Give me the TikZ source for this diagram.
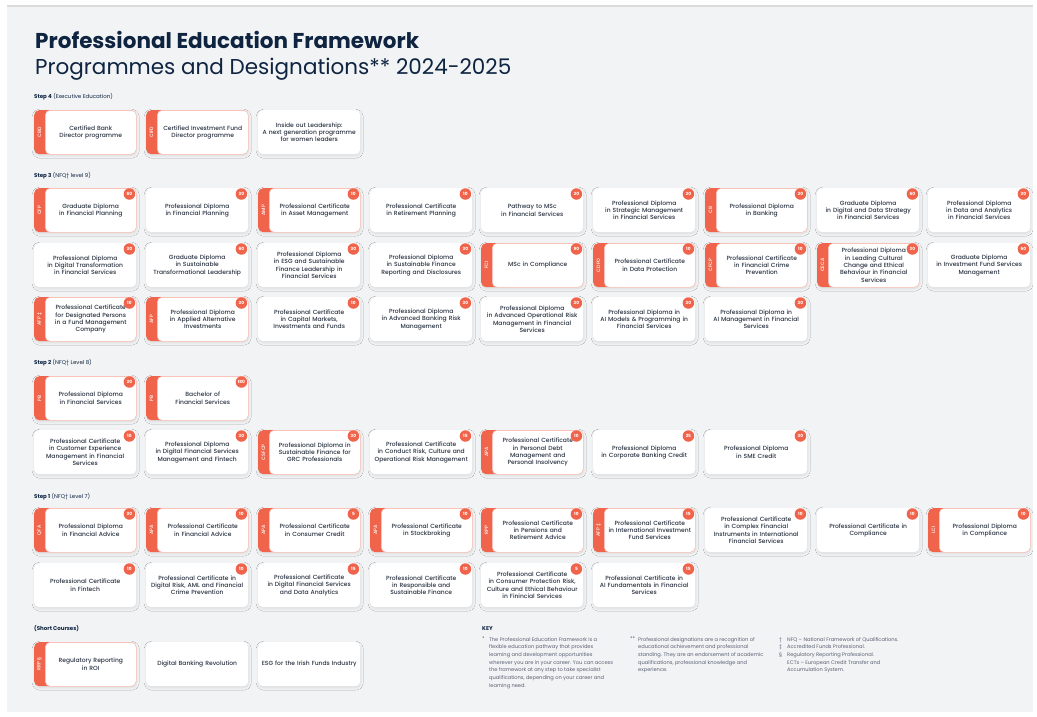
\documentclass[tikz,border=0pt]{standalone}
\usepackage{fontspec}
\setmainfont{Poppins}
\newfontfamily\medfam{Poppins Medium}
\usetikzlibrary{shadows.blur}

\definecolor{coral}{HTML}{F0644B}
\definecolor{navy}{HTML}{0E2440}
\definecolor{boxtext}{HTML}{2A3342}
\definecolor{panelbg}{HTML}{F2F3F5}
\definecolor{keytext}{HTML}{596072}

\newcommand{\crsfont}{\medfam\fontsize{6}{7.3}\selectfont}
\newcommand{\tagfnt}{\medfam\fontsize{4.8}{5}\selectfont}
\newcommand{\crdfont}{\fontsize{4.3}{5}\selectfont\bfseries}
\newcommand{\lblfont}{\fontsize{5.5}{6}\selectfont}
\newcommand{\keyfnt}{\fontsize{5.1}{7.7}\selectfont}

\tikzset {
    course/.style={rectangle, rounded corners=5pt, fill=white, anchor=north west,
        minimum width=102pt, minimum height=44pt, inner sep=0pt, text width=98pt,
        align=center, font=\crsfont, text=boxtext,
        blur shadow={shadow xshift=.5pt, shadow yshift=-1.5pt, shadow blur radius=2.5pt,
            shadow blur steps=8, shadow opacity=10}},
    tagbar/.style={course, fill=coral},
    inbox/.style={rectangle, rounded corners=5pt, fill=white, draw=coral!40, line width=.5pt,
        anchor=north west, minimum width=91pt, minimum height=44pt, inner sep=0pt,
        text width=89pt, align=center, font=\crsfont, text=boxtext},
    tagtxt/.style={rotate=90, text=white, font=\tagfnt, inner sep=0pt},
    credit/.style={circle, fill=coral, text=white, font=\crdfont, minimum size=11.5pt, inner sep=0pt},
    steplbl/.style={anchor=base west, inner sep=0pt, font=\lblfont, text=navy},
    keytxt/.style={anchor=north west, inner sep=0pt, align=left, font=\keyfnt, text=keytext},
}

% plain box, box with designation tag, credit badge
\newcommand{\course}[4]{\node [course] (#1) at (#2,#3) {#4};}
\newcommand{\desig}[5]{%
    \node [tagbar] (#1) at (#2,#3) {};
    \node [inbox, xshift=11pt] (#1-in) at (#1.north west) {#5};
    \node [tagtxt] (#1-tag) at ([xshift=5.5pt]#1.west) {#4};}
\newcommand{\badge}[2]{\node [credit] (#1-ects) at ([xshift=-7pt,yshift=-6pt]#1.north east) {#2};}

\begin{document}
\begin{tikzpicture}[x=1pt, y=-1pt]
    \useasboundingbox (0,0) rectangle (1037,716);
    \fill [panelbg] (7,5) rectangle (1033,712);
    \fill [black!14] (7,5) rectangle (1033,7);

    \node [anchor=base west, inner sep=0pt, font=\fontsize{21.5}{24}\selectfont\bfseries, text=navy]
        (title) at (35,48) {Professional Education Framework};
    \node [anchor=base west, inner sep=0pt, font=\fontsize{21.5}{24}\selectfont, text=navy]
        (subtitle) at (35,74) {Programmes and Designations** 2024-2025};

    % step 4
    \node [steplbl] (s4) at (34,98) {\textbf{Step 4} (Executive Education)};
    \desig{cbd}{34}{110}{CBD}{Certified Bank\\Director programme}
    \desig{cifd}{146}{110}{CIFD}{Certified Investment Fund\\Director programme}
    \course{lead}{258}{110}{Inside out Leadership:\\A next generation programme\\for women leaders}

    % step 3
    \node [steplbl] (s3) at (34,177) {\textbf{Step 3} (NFQ† level 9)};
    \desig{cfp}{34}{188}{CFP}{Graduate Diploma\\in Financial Planning} \badge{cfp}{60}
    \course{pdfp}{146}{188}{Professional Diploma\\in Financial Planning} \badge{pdfp}{30}
    \desig{amp}{258}{188}{AMP}{Professional Certificate\\in Asset Management} \badge{amp}{10}
    \course{pcrp}{370}{188}{Professional Certificate\\in Retirement Planning} \badge{pcrp}{10}
    \course{msc}{481}{188}{Pathway to MSc\\in Financial Services} \badge{msc}{30}
    \course{pdsm}{593}{188}{Professional Diploma\\in Strategic Management\\in Financial Services} \badge{pdsm}{30}
    \desig{cb}{705}{188}{CB}{Professional Diploma\\in Banking} \badge{cb}{30}
    \course{gdds}{817}{188}{Graduate Diploma\\in Digital and Data Strategy\\in Financial Services} \badge{gdds}{60}
    \course{pdda}{928}{188}{Professional Diploma\\in Data and Analytics\\in Financial Services} \badge{pdda}{30}

    \course{pddt}{34}{243}{Professional Diploma\\in Digital Transformation\\in Financial Services} \badge{pddt}{30}
    \course{gdst}{146}{243}{Graduate Diploma\\in Sustainable\\Transformational Leadership} \badge{gdst}{60}
    \course{pdesg}{258}{243}{Professional Diploma\\in ESG and Sustainable\\Finance Leadership in\\Financial Services} \badge{pdesg}{30}
    \course{pdsf}{370}{243}{Professional Diploma\\in Sustainable Finance\\Reporting and Disclosures} \badge{pdsf}{30}
    \desig{fci}{481}{243}{FCI}{MSc in Compliance} \badge{fci}{90}
    \desig{cdpo}{593}{243}{CDPO}{Professional Certificate\\in Data Protection} \badge{cdpo}{10}
    \desig{cfcp}{705}{243}{CFCP}{Professional Certificate\\in Financial Crime\\Prevention} \badge{cfcp}{10}
    \desig{ceca}{817}{243}{CECA}{Professional Diploma\\in Leading Cultural\\Change and Ethical\\Behaviour in Financial\\Services} \badge{ceca}{30}
    \course{gdif}{928}{243}{Graduate Diploma\\in Investment Fund Services\\Management} \badge{gdif}{60}

    \desig{afpa}{34}{297}{AFP ‡}{Professional Certificate\\for Designated Persons\\in a Fund Management\\Company} \badge{afpa}{10}
    \desig{afpb}{146}{297}{AFP}{Professional Diploma\\in Applied Alternative\\Investments} \badge{afpb}{30}
    \course{pccm}{258}{297}{Professional Certificate\\in Capital Markets,\\Investments and Funds} \badge{pccm}{10}
    \course{pdbr}{370}{297}{Professional Diploma\\in Advanced Banking Risk\\Management} \badge{pdbr}{30}
    \course{pdor}{481}{297}{Professional Diploma\\in Advanced Operational Risk\\Management in Financial\\Services} \badge{pdor}{30}
    \course{pdaim}{593}{297}{Professional Diploma in\\AI Models \& Programming in\\Financial Services} \badge{pdaim}{30}
    \course{pdaig}{705}{297}{Professional Diploma in\\AI Management in Financial\\Services} \badge{pdaig}{30}

    % step 2
    \node [steplbl] (s2) at (34,364) {\textbf{Step 2} (NFQ† Level 8)};
    \desig{pba}{34}{376}{PB}{Professional Diploma\\in Financial Services} \badge{pba}{30}
    \desig{pbb}{146}{376}{PB}{Bachelor of\\Financial Services} \badge{pbb}{180}

    \course{pccx}{34}{430}{Professional Certificate\\in Customer Experience\\Management in Financial\\Services} \badge{pccx}{10}
    \course{pddf}{146}{430}{Professional Diploma\\in Digital Financial Services\\Management and Fintech} \badge{pddf}{30}
    \desig{csfcp}{258}{430}{CSFCP}{Professional Diploma in\\Sustainable Finance for\\GRC Professionals} \badge{csfcp}{30}
    \course{pccr}{370}{430}{Professional Certificate\\in Conduct Risk, Culture and\\Operational Risk Management} \badge{pccr}{15}
    \desig{apaa}{481}{430}{APA}{Professional Certificate\\in Personal Debt\\Management and\\Personal Insolvency} \badge{apaa}{10}
    \course{pdcb}{593}{430}{Professional Diploma\\in Corporate Banking Credit} \badge{pdcb}{25}
    \course{pdsme}{705}{430}{Professional Diploma\\in SME Credit} \badge{pdsme}{30}

    % step 1
    \node [steplbl] (s1) at (34,498) {\textbf{Step 1} (NFQ† Level 7)};
    \desig{qfa}{34}{508}{QFA}{Professional Diploma\\in Financial Advice} \badge{qfa}{30}
    \desig{apab}{146}{508}{APA}{Professional Certificate\\in Financial Advice} \badge{apab}{10}
    \desig{apac}{258}{508}{APA}{Professional Certificate\\in Consumer Credit} \badge{apac}{5}
    \desig{apad}{370}{508}{APA}{Professional Certificate\\in Stockbroking} \badge{apad}{10}
    \desig{rpp}{481}{508}{RPP}{Professional Certificate\\in Pensions and\\Retirement Advice} \badge{rpp}{10}
    \desig{afpc}{593}{508}{AFP ‡}{Professional Certificate\\in International Investment\\Fund Services} \badge{afpc}{15}
    \course{pccf}{705}{508}{Professional Certificate\\in Complex Financial\\Instruments in International\\Financial Services} \badge{pccf}{10}
    \course{pccomp}{817}{508}{Professional Certificate in\\Compliance} \badge{pccomp}{10}
    \desig{lci}{928}{508}{LCI}{Professional Diploma\\in Compliance} \badge{lci}{10}

    \course{pcft}{34}{563}{Professional Certificate\\in Fintech} \badge{pcft}{10}
    \course{pcdr}{146}{563}{Professional Certificate in\\Digital Risk, AML and Financial\\Crime Prevention} \badge{pcdr}{10}
    \course{pcdf}{258}{563}{Professional Certificate\\in Digital Financial Services\\and Data Analytics} \badge{pcdf}{15}
    \course{pcrs}{370}{563}{Professional Certificate\\in Responsible and\\Sustainable Finance} \badge{pcrs}{10}
    \course{pccp}{481}{563}{Professional Certificate\\in Consumer Protection Risk,\\Culture and Ethical Behaviour\\in Finincial Services} \badge{pccp}{5}
    \course{pcai}{593}{563}{Professional Certificate in\\AI Fundamentals in Financial\\Services} \badge{pcai}{15}

    % short courses
    \node [steplbl] (sc) at (34,630) {\textbf{(Short Courses)}};
    \desig{rrp}{34}{642}{RRP §}{Regulatory Reporting\\in ROI}
    \course{dbr}{146}{642}{Digital Banking Revolution}
    \course{esg}{258}{642}{ESG for the Irish Funds Industry}

    % key
    \node [steplbl] (key) at (482,630) {\textbf{KEY}};
    \node [keytxt] (k1s) at (482,637) {*};
    \node [keytxt] (k1) at (489,637) {The Professional Education Framework is a\\flexible education pathway that provides\\learning and development opportunities\\wherever you are in your career. You can access\\the framework at any step to take specialist\\qualifications, depending on your career and\\learning need.};
    \node [keytxt] (k2s) at (630,637) {**};
    \node [keytxt] (k2) at (638,637) {Professional designations are a recognition of\\educational achievement and professional\\standing. They are an endorsement of academic\\qualifications, professional knowledge and\\experience.};
    \node [keytxt] (k3s) at (779,637) {†\\‡\\§};
    \node [keytxt] (k3) at (787,637) {NFQ – National Framework of Qualifications.\\Accredited Funds Professional.\\Regulatory Reporting Professional.\\ECTs – European Credit Transfer and\\Accumulation System.};
\end{tikzpicture}
\end{document}
